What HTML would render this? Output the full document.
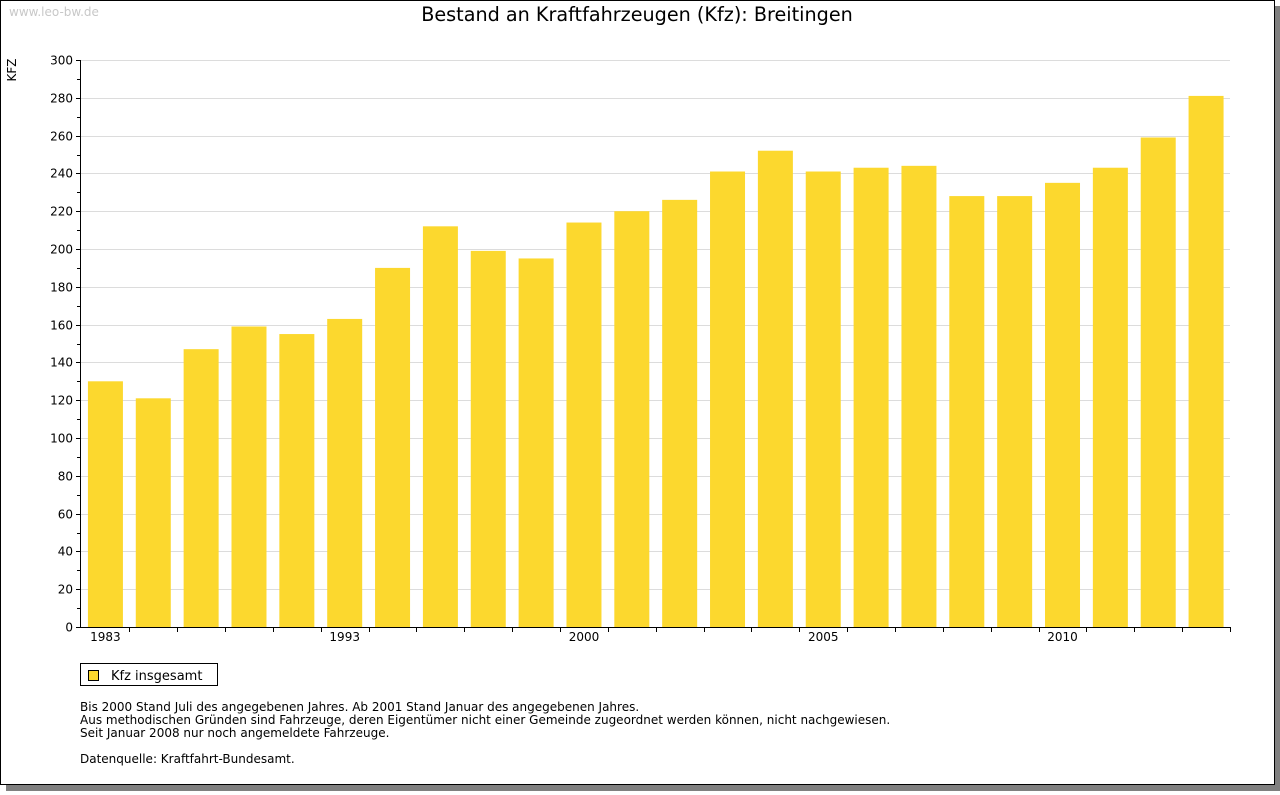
<!DOCTYPE html>
<html><head><meta charset="utf-8"><style>
body{margin:0;background:#fff;font-family:"DejaVu Sans","Liberation Sans",sans-serif;}
svg text{font-family:"DejaVu Sans","Liberation Sans",sans-serif;}
</style></head><body>
<svg id="c" width="1280" height="791" xmlns="http://www.w3.org/2000/svg">
<rect x="6" y="6" width="1274" height="785" fill="#808080"/>
<rect x="0.5" y="0.5" width="1274" height="784" fill="#fff" stroke="#000"/>
<text x="9" y="16" font-size="12" fill="#c8c8c8">www.leo-bw.de</text>
<text x="637" y="21" font-size="19.2" text-anchor="middle" fill="#000">Bestand an Kraftfahrzeugen (Kfz): Breitingen</text>
<text transform="translate(16,70) rotate(-90)" font-size="12" text-anchor="middle">KFZ</text>
<g id="grid"></g><g id="bars"></g><g id="axes"></g>
<rect x="80.5" y="663.5" width="137" height="22" fill="#fff" stroke="#000"/>
<rect x="88.5" y="670.5" width="10" height="10" fill="#fcd82e" stroke="#000"/>
<text x="111" y="680" font-size="13">Kfz insgesamt</text>
<g font-size="12">
<text x="80" y="711">Bis 2000 Stand Juli des angegebenen Jahres. Ab 2001 Stand Januar des angegebenen Jahres.</text>
<text x="80" y="724">Aus methodischen Gründen sind Fahrzeuge, deren Eigentümer nicht einer Gemeinde zugeordnet werden können, nicht nachgewiesen.</text>
<text x="80" y="737">Seit Januar 2008 nur noch angemeldete Fahrzeuge.</text>
<text x="80" y="763">Datenquelle: Kraftfahrt-Bundesamt.</text>
</g>
</svg>
<script>
const categories=["1983","1985","1987","1989","1991","1993","1995","1996","1997","1999","2000","2001","2002","2003","2004","2005","2006","2007","2008","2009","2010","2011","2012","2013"];
const tickLabels=["1983","","","","","1993","","","","","2000","","","","","2005","","","","","2010","","",""];
const values=[130,121,147,159,155,163,190,212,199,195,214,220,226,241,252,241,243,244,228,228,235,243,259,281];
const yTicks=[0,20,40,60,80,100,120,140,160,180,200,220,240,260,280,300];
const NS="http://www.w3.org/2000/svg";
const x0=80.5,x1=1230,yb=627,yt=60,ymax=300,bs=81.5;
const band=(x1-bs)/categories.length;
const y=v=>yb-(v/ymax)*(yb-yt);
function mk(t,a,p){const e=document.createElementNS(NS,t);for(const k in a)e.setAttribute(k,a[k]);p.appendChild(e);return e;}
const g=document.getElementById('grid'),b=document.getElementById('bars'),ax=document.getElementById('axes');
yTicks.forEach(v=>{
 const yy=Math.round(y(v))+0.5;
 if(v>0){const l=mk('line',{x1:x0,x2:x1,y1:yy,y2:yy,stroke:'#dcdcdc'},g);
 
 }
 mk('line',{x1:76,x2:x0,y1:yy,y2:yy,stroke:'#000'},ax);
 const t=mk('text',{x:73,y:yy+4,'font-size':12,'text-anchor':'end'},ax);t.textContent=v;
 
 
 if(v<ymax){const ym=Math.round(y(v+10))+0.5;mk('line',{x1:77,x2:x0,y1:ym,y2:ym,stroke:'#000'},ax);}
});
values.forEach((v,i)=>{
 const cx=bs+band*(i+0.5);
 const r=mk('rect',{x:cx-17.5,y:y(v),width:35,height:yb-y(v),fill:'#fcd82e'},b);
 
 
 if(tickLabels[i]){const t=mk('text',{x:cx,y:641,'font-size':12,'text-anchor':'middle'},ax);t.textContent=tickLabels[i];
 
 }
});
for(let i=1;i<=categories.length;i++){const xx=Math.round(bs+band*i)+0.5;mk('line',{x1:xx,x2:xx,y1:yb,y2:yb+5,stroke:'#000'},ax);}
const ya=mk('line',{x1:x0,x2:x0,y1:yt,y2:yb,stroke:'#000'},ax);


const xa=mk('line',{x1:x0,x2:x1,y1:yb+0.5,y2:yb+0.5,stroke:'#000'},ax);


</script>
</body></html>
